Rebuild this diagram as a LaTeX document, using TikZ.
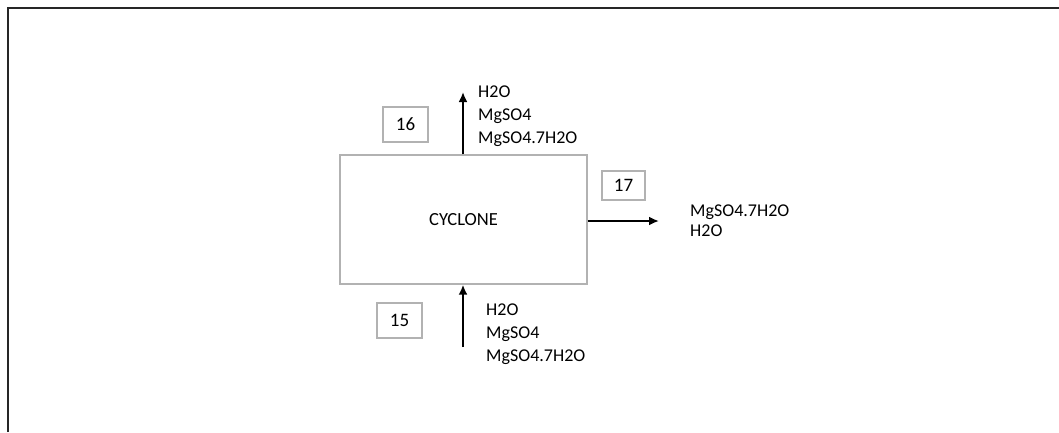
\documentclass[tikz,border=0pt]{standalone}
\usepackage{fontspec}
\setmainfont{Carlito}
\usetikzlibrary{positioning,arrows.meta}

\begin{document}
\begin{tikzpicture}[
  x=1pt, y=-1pt,
  unit/.style={draw=gray!60, line width=1.3pt, minimum width=247pt, minimum height=129pt, font=\fontsize{18.5}{22}\selectfont},
  tag/.style={draw=gray!60, line width=1.1pt, minimum width=45pt, minimum height=35pt, inner sep=0pt, font=\fontsize{19}{22}\selectfont},
  stream/.style={align=left, inner sep=0pt, anchor=west, font=\fontsize{18}{23}\selectfont},
  flow/.style={-{Latex[length=10pt,width=9pt]}, line width=2.6pt}
]
\useasboundingbox (0,0) rectangle (1059,432);
\draw[line width=2.2pt, black!85] (8,432) -- (8,8) -- (1059,8);

\node[unit] (cyclone) at (463.5,219.5) {CYCLONE};

% numbered streams
\node[tag] (s16) at (405.5,124.5) {16};
\node[tag] (s15) at (399.5,320.5) {15};
\node[tag, minimum width=43pt, minimum height=29pt] (s17) at (623.5,185.5) {17};

% in and out
\coordinate (in15) at (463,347);
\coordinate (out16) at (463,92);
\coordinate (out17) at (659,221);
\draw[flow] (in15) -- (in15 |- cyclone.south);
\draw[flow] (out16 |- cyclone.north) -- (out16);
\draw[flow] (cyclone.east |- out17) -- (out17);

\node[stream] (c16) at (478,116) {H2O\\MgSO4\\MgSO4.7H2O};
\node[stream] (c15) at (486,334) {H2O\\MgSO4\\MgSO4.7H2O};
\node[stream, font=\fontsize{18}{20}\selectfont] (c17) at (690,221) {MgSO4.7H2O\\H2O};
\end{tikzpicture}
\end{document}
